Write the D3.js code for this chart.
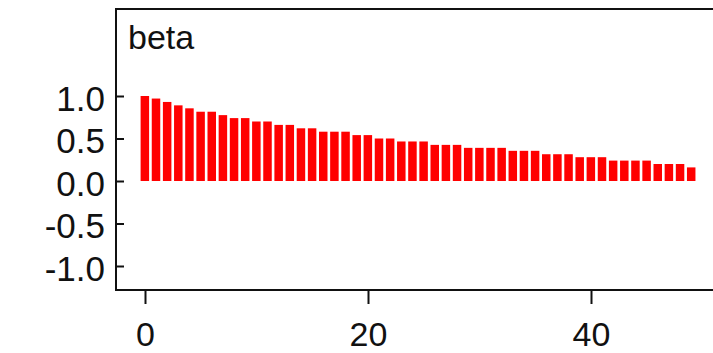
<!DOCTYPE html>
<html>
<head>
<meta charset="utf-8">
<script src="https://cdn.jsdelivr.net/npm/d3@7"></script>
<style>
  html, body { margin: 0; padding: 0; background: #fff; }
  svg { display: block; }
  text { font-family: "Liberation Sans", Arial, sans-serif; fill: #111; }
</style>
</head>
<body>
<svg id="chart" width="713" height="353"></svg>
<script>
// Autocorrelation of the sampled chain for "beta", lags 0..49
const nodeName = "beta";
const lags = d3.range(0, 50);
const acf = [
  1.0, 0.97, 0.93, 0.89, 0.855, 0.815, 0.815, 0.775, 0.74, 0.74,
  0.70, 0.70, 0.66, 0.66, 0.62, 0.62, 0.58, 0.58, 0.58, 0.54,
  0.54, 0.50, 0.50, 0.465, 0.465, 0.465, 0.425, 0.425, 0.425, 0.39,
  0.39, 0.39, 0.39, 0.355, 0.355, 0.355, 0.315, 0.315, 0.315, 0.28,
  0.28, 0.28, 0.24, 0.24, 0.24, 0.24, 0.20, 0.20, 0.20, 0.16
];
const xTicks = [0, 20, 40];
const yTicks = [-1.0, -0.5, 0.0, 0.5, 1.0];

const svg = d3.select("#chart");

// plot frame edges (the right edge runs past the window)
const frameL = 116, frameT = 9, frameB = 290, frameR = 760;

const x = d3.scaleLinear().domain([0, 40]).range([145, 591]);
const y = d3.scaleLinear().domain([0, 1]).range([181, 96]);

// bars
const barW = 8.5, barOff = -4.4;
svg.append("g")
  .selectAll("rect")
  .data(lags)
  .join("rect")
  .attr("x", d => x(d) + barOff)
  .attr("width", barW)
  .attr("y", (d, i) => y(Math.max(0, acf[i])))
  .attr("height", (d, i) => Math.abs(y(acf[i]) - y(0)))
  .attr("fill", "#ff0000");

// frame: top, left, bottom
svg.append("path")
  .attr("d", `M${frameR},${frameT}H${frameL}V${frameB}H${frameR}`)
  .attr("fill", "none")
  .attr("stroke", "#111")
  .attr("stroke-width", 2);

// y axis: inward ticks, labels on the left
const yAxis = svg.append("g")
  .attr("transform", `translate(${frameL},0)`)
  .call(d3.axisLeft(y).tickValues(yTicks).tickSize(-8).tickPadding(11)
    .tickFormat(d => d3.format(".1f")(d).replace("−", "-")));
yAxis.select(".domain").remove();
yAxis.selectAll("line").attr("stroke", "#111").attr("stroke-width", 2);
yAxis.selectAll("text")
  .attr("font-size", 35)
  .attr("font-family", "'Liberation Sans', Arial, sans-serif")
  .attr("fill", "#111")
  .attr("dy", null)
  .attr("y", 14);

// x axis: outward ticks
const xAxis = svg.append("g")
  .attr("transform", `translate(0,${frameB})`)
  .call(d3.axisBottom(x).tickValues(xTicks).tickSize(14).tickFormat(d3.format("d")));
xAxis.select(".domain").remove();
xAxis.selectAll("line").attr("stroke", "#111").attr("stroke-width", 2);
xAxis.selectAll("text")
  .attr("font-size", 34)
  .attr("font-family", "'Liberation Sans', Arial, sans-serif")
  .attr("fill", "#111")
  .attr("dy", null)
  .attr("y", 56);

// node name
svg.append("text")
  .attr("x", 128)
  .attr("y", 49)
  .attr("font-size", 34)
  .text(nodeName);
</script>
</body>
</html>
